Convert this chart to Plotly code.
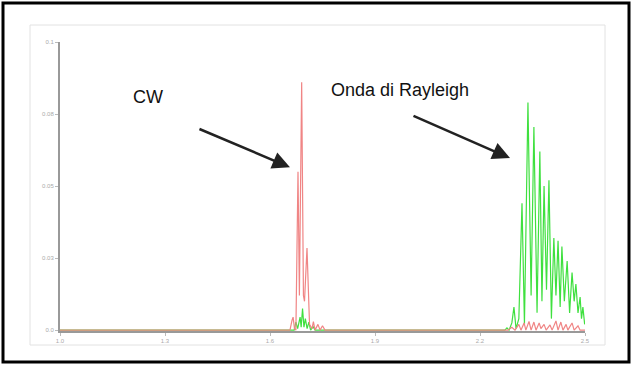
import plotly.graph_objects as go

# ---- data ----
x_tick_vals = [1.0, 1.3, 1.6, 1.9, 2.2, 2.5]
x_tick_text = ["1.0", "1.3", "1.6", "1.9", "2.2", "2.5"]
y_tick_vals = [0.0, 0.025, 0.05, 0.075, 0.1]
y_tick_text = ["0.0", "0.03", "0.05", "0.08", "0.1"]

red_x = [1.000, 1.657, 1.663, 1.666, 1.670, 1.674, 1.680, 1.684, 1.6905, 1.6955,
         1.6986, 1.7057, 1.7129, 1.720, 1.724, 1.7286, 1.737, 1.743, 1.750, 1.757,
         2.280, 2.291, 2.300, 2.311, 2.317, 2.326, 2.331, 2.340, 2.346, 2.354,
         2.360, 2.369, 2.374, 2.383, 2.389, 2.400, 2.406, 2.417, 2.423, 2.431,
         2.437, 2.446, 2.451, 2.463, 2.469, 2.480, 2.486, 2.500]
red_y = [0.0, 0.0, 0.0035, 0.0045, 0.0005, 0.0, 0.055, 0.012, 0.086, 0.012,
         0.010, 0.0285, 0.002, 0.0005, 0.003, 0.0, 0.002, 0.0, 0.0015, 0.0,
         0.0, 0.001, 0.0, 0.002, 0.0, 0.0025, 0.0, 0.003, 0.0, 0.0028,
         0.0, 0.0025, 0.0005, 0.002, 0.0, 0.0018, 0.0, 0.0032, 0.0, 0.0028,
         0.0, 0.002, 0.0, 0.0025, 0.0, 0.0015, 0.0, 0.0]

green_x = [1.000, 1.669, 1.674, 1.679, 1.686, 1.689, 1.693, 1.697, 1.701, 1.706,
           1.711, 1.716, 1.723, 1.729,
           2.271, 2.277, 2.283, 2.291, 2.297, 2.303, 2.311, 2.320, 2.327, 2.337,
           2.346, 2.354, 2.363, 2.371, 2.377, 2.383, 2.390, 2.397, 2.404, 2.411,
           2.417, 2.423, 2.429, 2.434, 2.441, 2.449, 2.456, 2.463, 2.469, 2.474,
           2.480, 2.486, 2.490, 2.494, 2.499]
green_y = [0.0, 0.0, 0.0028, 0.0005, 0.0045, 0.001, 0.0075, 0.001, 0.004, 0.0005,
           0.0028, 0.0, 0.0012, 0.0,
           0.0, 0.0008, 0.0, 0.0025, 0.008, 0.0005, 0.004, 0.044, 0.002, 0.079,
           0.012, 0.0705, 0.006, 0.062, 0.010, 0.050, 0.014, 0.052, 0.004, 0.032,
           0.012, 0.031, 0.008, 0.029, 0.010, 0.024, 0.006, 0.020, 0.010, 0.016,
           0.006, 0.0115, 0.004, 0.008, 0.002]

label_cw = "CW"
label_rayleigh = "Onda di Rayleigh"

# ---- figure ----
W, H = 632, 365
L, R, T, B = 60, 47, 42, 34  # plot area x 60..585, y 42..331

fig = go.Figure()
fig.add_trace(go.Scatter(x=green_x, y=green_y, mode="lines",
                         line=dict(color="#3fe03f", width=1.2), hoverinfo="skip"))
fig.add_trace(go.Scatter(x=red_x, y=red_y, mode="lines",
                         line=dict(color="#f08585", width=1.2), hoverinfo="skip"))

def px2paper(px, py):
    return (px - L) / (W - L - R), (H - B - py) / (H - T - B)

shapes = []
# outer black frame
x0, y0 = px2paper(3, 362)
x1, y1 = px2paper(629, 3)
shapes.append(dict(type="rect", xref="paper", yref="paper", x0=x0, y0=y0, x1=x1, y1=y1,
                   line=dict(color="black", width=3), layer="below"))
# inner light panel
x0, y0 = px2paper(30, 345)
x1, y1 = px2paper(605, 25)
shapes.append(dict(type="rect", xref="paper", yref="paper", x0=x0, y0=y0, x1=x1, y1=y1,
                   line=dict(color="#e2e2e2", width=1), layer="below"))

annotations = [
    dict(x=1.2514, y=0.0809, xref="x", yref="y", text=label_cw, showarrow=False,
         font=dict(family="Liberation Sans", size=18, color="#111")),
    dict(x=1.9714, y=0.0833, xref="x", yref="y", text=label_rayleigh, showarrow=False,
         font=dict(family="Liberation Sans", size=18, color="#111")),
    dict(x=1.657, y=0.0565, xref="x", yref="y", text="", showarrow=True,
         ax=-92, ay=-39, arrowhead=2, arrowsize=1.4, arrowwidth=2.5,
         arrowcolor="#222", standoff=0),
    dict(x=2.2857, y=0.0597, xref="x", yref="y", text="", showarrow=True,
         ax=-98, ay=-43, arrowhead=2, arrowsize=1.4, arrowwidth=2.5,
         arrowcolor="#222", standoff=0),
]

fig.update_layout(
    width=W, height=H,
    margin=dict(l=L, r=R, t=T, b=B),
    paper_bgcolor="white", plot_bgcolor="white",
    showlegend=False,
    shapes=shapes,
    annotations=annotations,
    xaxis=dict(range=[1.0, 2.5], tickvals=x_tick_vals, ticktext=x_tick_text,
               showgrid=False, zeroline=False, showline=True, linecolor="#999",
               linewidth=1.5, ticks="outside", ticklen=3, tickcolor="#bbb",
               tickfont=dict(family="Liberation Sans", size=6, color="#aaa"),
               layer="below traces"),
    yaxis=dict(range=[-0.0003, 0.1], tickvals=y_tick_vals, ticktext=y_tick_text,
               showgrid=False, zeroline=False, showline=True, linecolor="#999",
               linewidth=2, ticks="outside", ticklen=3, tickcolor="#bbb",
               tickfont=dict(family="Liberation Sans", size=6, color="#aaa"),
               layer="below traces"),
)

fig.write_html("out.html", config={"displayModeBar": False},
               post_script="document.body.style.margin='0';")
